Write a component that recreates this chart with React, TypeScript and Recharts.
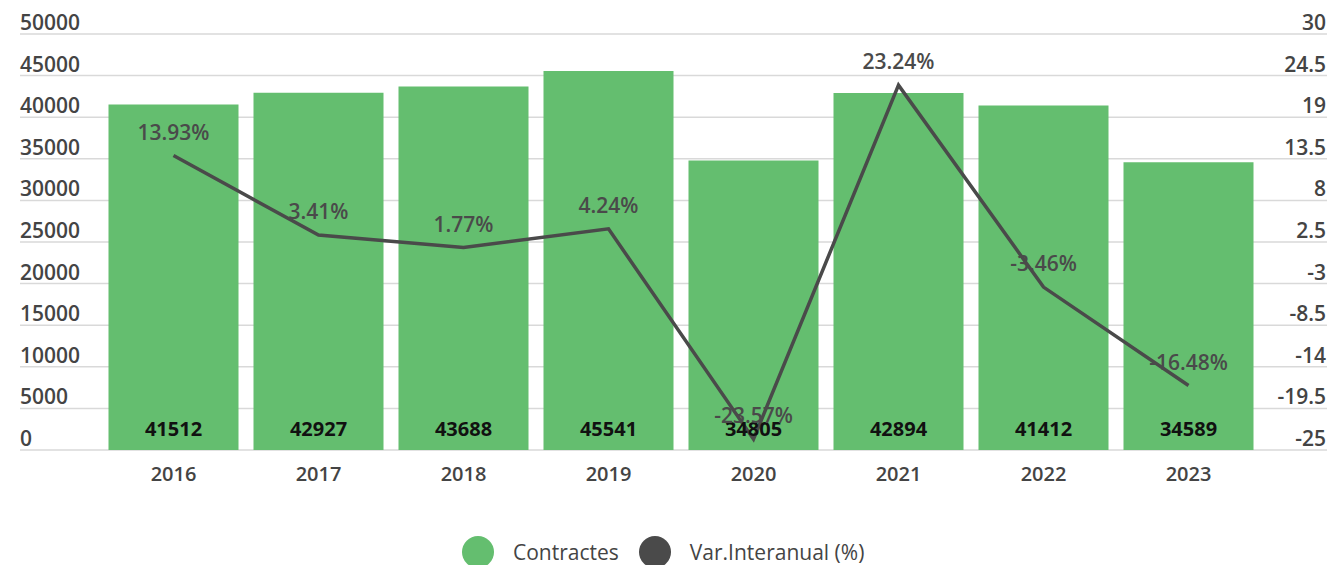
import React from "react"
import {
  ComposedChart,
  Bar,
  Line,
  XAxis,
  YAxis,
  CartesianGrid,
  LabelList,
} from "recharts"

const YEARS = ["2016", "2017", "2018", "2019", "2020", "2021", "2022", "2023"]
const CONTRACTES = [41512, 42927, 43688, 45541, 34805, 42894, 41412, 34589]
const VARIACIO = [13.93, 3.41, 1.77, 4.24, -23.57, 23.24, -3.46, -16.48]
const LEFT_TICKS = [0, 5000, 10000, 15000, 20000, 25000, 30000, 35000, 40000, 45000, 50000]
const RIGHT_TICKS = [-25, -19.5, -14, -8.5, -3, 2.5, 8, 13.5, 19, 24.5, 30]

const GREEN = "#64be6f"
const DARK = "#4a4a4a"
const GRID = "#d9d9d9"
const TEXT = "#444444"

const W = 1330
const H = 565
const LEFT_W = 101
const RIGHT_W = 69

const data = YEARS.map((year, i) => ({
  year,
  contractes: CONTRACTES[i],
  variacio: VARIACIO[i],
}))

// eslint-disable-next-line @typescript-eslint/no-explicit-any
function LeftTick({ y, payload }: any) {
  return (
    <g>
      <line x1={20} x2={LEFT_W} y1={y} y2={y} stroke={GRID} strokeWidth={1.5} />
      <text x={20} y={y - 4} textAnchor="start" fill={TEXT} fontSize={21} fontWeight={600}>
        {payload.value}
      </text>
    </g>
  )
}

// eslint-disable-next-line @typescript-eslint/no-explicit-any
function RightTick({ y, payload }: any) {
  return (
    <g>
      <line x1={W - RIGHT_W} x2={1327} y1={y} y2={y} stroke={GRID} strokeWidth={1.5} />
      <text x={1326} y={y - 4} textAnchor="end" fill={TEXT} fontSize={21} fontWeight={600}>
        {payload.value}
      </text>
    </g>
  )
}

// eslint-disable-next-line @typescript-eslint/no-explicit-any
function YearTick({ x, payload }: any) {
  return (
    <text x={x} y={481} textAnchor="middle" fill={TEXT} fontSize={20} fontWeight={600}>
      {payload.value}
    </text>
  )
}

// eslint-disable-next-line @typescript-eslint/no-explicit-any
function BarValue({ x, y, width, height, value }: any) {
  return (
    <text x={x + width / 2} y={y + height - 14} textAnchor="middle" fill="#111" fontSize={20} fontWeight={700}>
      {value}
    </text>
  )
}

// eslint-disable-next-line @typescript-eslint/no-explicit-any
function PctValue({ x, y, value }: any) {
  return (
    <text x={x} y={y - 16} textAnchor="middle" fill={DARK} fontSize={21} fontWeight={600}>
      {`${Number(value).toFixed(2)}%`}
    </text>
  )
}

function LegendItem({ color, label }: { color: string; label: string }) {
  return (
    <div style={{ display: "flex", alignItems: "center", marginRight: 20 }}>
      <div style={{ width: 32, height: 32, borderRadius: 16, background: color, marginRight: 19 }} />
      <span style={{ fontSize: 21, color: TEXT }}>{label}</span>
    </div>
  )
}

export default function App() {
  return (
    <div
      style={{
        position: "absolute",
        left: 0,
        top: 0,
        width: W,
        height: H,
        overflow: "hidden",
        background: "#fff",
        fontFamily: "'Open Sans', sans-serif",
      }}
    >
      <ComposedChart
        width={W}
        height={H}
        data={data}
        margin={{ top: 34, right: 0, bottom: 75, left: 0 }}
        barCategoryGap={7.5}
      >
        <CartesianGrid yAxisId="left" vertical={false} stroke={GRID} strokeWidth={1.5} />
        <XAxis
          dataKey="year"
          axisLine={false}
          tickLine={false}
          height={40}
          interval={0}
          tick={<YearTick />}
        />
        <YAxis
          yAxisId="left"
          width={LEFT_W}
          domain={[0, 50000]}
          ticks={LEFT_TICKS}
          interval={0}
          axisLine={false}
          tickLine={false}
          tick={<LeftTick />}
        />
        <YAxis
          yAxisId="right"
          orientation="right"
          width={RIGHT_W}
          domain={[-25, 30]}
          ticks={RIGHT_TICKS}
          interval={0}
          axisLine={false}
          tickLine={false}
          tick={<RightTick />}
        />
        <Bar yAxisId="left" dataKey="contractes" name="Contractes" fill={GREEN} isAnimationActive={false}>
          <LabelList dataKey="contractes" content={<BarValue />} />
        </Bar>
        <Line
          yAxisId="right"
          type="linear"
          dataKey="variacio"
          name="Var.Interanual (%)"
          stroke={DARK}
          strokeWidth={3.5}
          dot={false}
          activeDot={false}
          isAnimationActive={false}
        >
          <LabelList dataKey="variacio" content={<PctValue />} />
        </Line>
      </ComposedChart>
      <div style={{ position: "absolute", left: 462, top: 536, display: "flex" }}>
        <LegendItem color={GREEN} label="Contractes" />
        <LegendItem color={DARK} label="Var.Interanual (%)" />
      </div>
    </div>
  )
}
